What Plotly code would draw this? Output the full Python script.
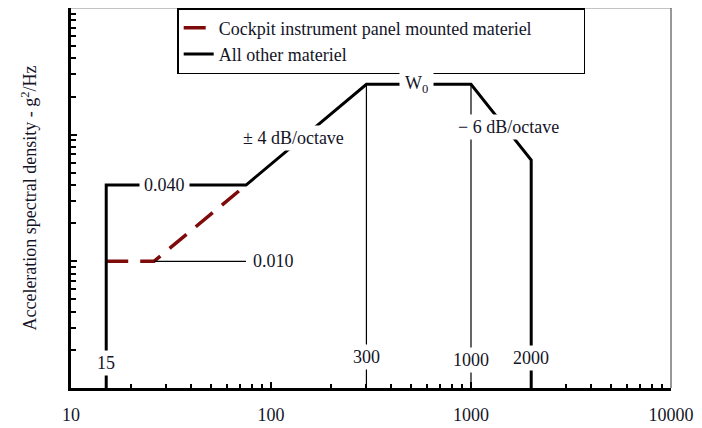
import math
import plotly.graph_objects as go

# ---- data ----
freq_all = [15, 15, 75, 300, 1000, 2000, 2000]
psd_all = [0.001, 0.04, 0.04, 0.25, 0.25, 0.063, 0.001]

freq_cockpit = [15, 26, 75]
psd_cockpit = [0.01, 0.01, 0.04]

# thin reference lines
ref_v_freqs = [300, 1000]
ref_v_top = 0.25
ref_h_freq = [26, 75]
ref_h_psd = [0.01, 0.01]
floor_psd = 0.001

legend_names = ["Cockpit instrument panel mounted materiel", "All other materiel"]
x_tick_vals = [10, 100, 1000, 10000]
x_tick_text = ["10", "100", "1000", "10000"]

FONT = "Liberation Serif, Times New Roman, serif"
TXT = "#141428"
FS = 18

fig = go.Figure()

fig.add_trace(go.Scatter(
    x=freq_cockpit, y=psd_cockpit, mode="lines", name=legend_names[0],
    line=dict(color="#7f0a0a", width=3.5, dash="22px,12px"),
))
fig.add_trace(go.Scatter(
    x=freq_all, y=psd_all, mode="lines", name=legend_names[1],
    line=dict(color="black", width=3),
))
for f in ref_v_freqs:
    fig.add_trace(go.Scatter(
        x=[f, f], y=[ref_v_top, floor_psd], mode="lines", showlegend=False,
        line=dict(color="black", width=1.2),
    ))
fig.add_trace(go.Scatter(
    x=ref_h_freq, y=ref_h_psd, mode="lines", showlegend=False,
    line=dict(color="black", width=1.2),
))

def ann(text, fx, py, xanchor="center", bg="white", pad=2):
    fig.add_annotation(
        x=math.log10(fx), y=math.log10(py), text=text, showarrow=False,
        xanchor=xanchor, yanchor="middle", bgcolor=bg, borderpad=pad,
        font=dict(family=FONT, size=FS, color=TXT),
    )

ann("0.040", 29.2, 0.04, pad=4)
ann("± 4 dB/octave", 130, 0.094)
ann("W<sub>0</sub>", 531, 0.25, pad=5)
ann("− 6 dB/octave", 1531, 0.1148)
ann("0.010", 78.5, 0.01, xanchor="left")
ann("15", 15, 0.00157)
ann("300", 300, 0.00176)
ann("1000", 1000, 0.00166)
ann("2000", 2000, 0.00172)

minor_x = [m * 10 ** k for k in (1, 2, 3) for m in range(2, 10)]
minor_y = [m * 10 ** k for k in (-3, -2, -1) for m in range(2, 10)]

fig.update_xaxes(
    type="log", range=[1, 4], showgrid=False, zeroline=False, automargin=False,
    showline=True, linecolor="black", linewidth=3,
    tickmode="array", tickvals=x_tick_vals, ticktext=x_tick_text,
    ticks="inside", ticklen=6, tickwidth=2, tickcolor="black",
    ticklabelstandoff=8,
    tickfont=dict(family=FONT, size=FS, color=TXT),
    minor=dict(tickmode="array", tickvals=minor_x, ticks="inside", ticklen=4,
               tickwidth=2, tickcolor="black", showgrid=False),
)
fig.update_yaxes(
    type="log", range=[-3, 0], showgrid=False, zeroline=False, automargin=False,
    showline=True, linecolor="black", linewidth=3,
    tickmode="array", tickvals=[0.001, 0.01, 0.1, 1], showticklabels=False,
    ticks="inside", ticklen=6, tickwidth=2, tickcolor="black",
    minor=dict(tickmode="array", tickvals=minor_y, ticks="inside", ticklen=5,
               tickwidth=2, tickcolor="black", showgrid=False),
    title=dict(text="Acceleration spectral density - g<sup>2</sup>/Hz",
               font=dict(family=FONT, size=FS, color=TXT), standoff=27),
)

# thin top/right frame
fig.add_shape(type="line", xref="paper", yref="paper", x0=0, x1=1, y0=1, y1=1,
              line=dict(color="#888888", width=1))
fig.add_shape(type="line", xref="paper", yref="paper", x0=1, x1=1, y0=0, y1=1,
              line=dict(color="#333333", width=1))

fig.update_layout(
    width=694, height=420,
    margin=dict(l=63, r=31, t=0, b=40),
    paper_bgcolor="white", plot_bgcolor="white",
    showlegend=True,
    legend=dict(
        x=0.177, y=1.0, xanchor="left", yanchor="top",
        orientation="h", entrywidth=360, entrywidthmode="pixels",
        bgcolor="white", bordercolor="black", borderwidth=1.5,
        font=dict(family=FONT, size=FS, color=TXT),
        tracegroupgap=0, itemwidth=30,
    ),
)

fig.write_html("out.html")
